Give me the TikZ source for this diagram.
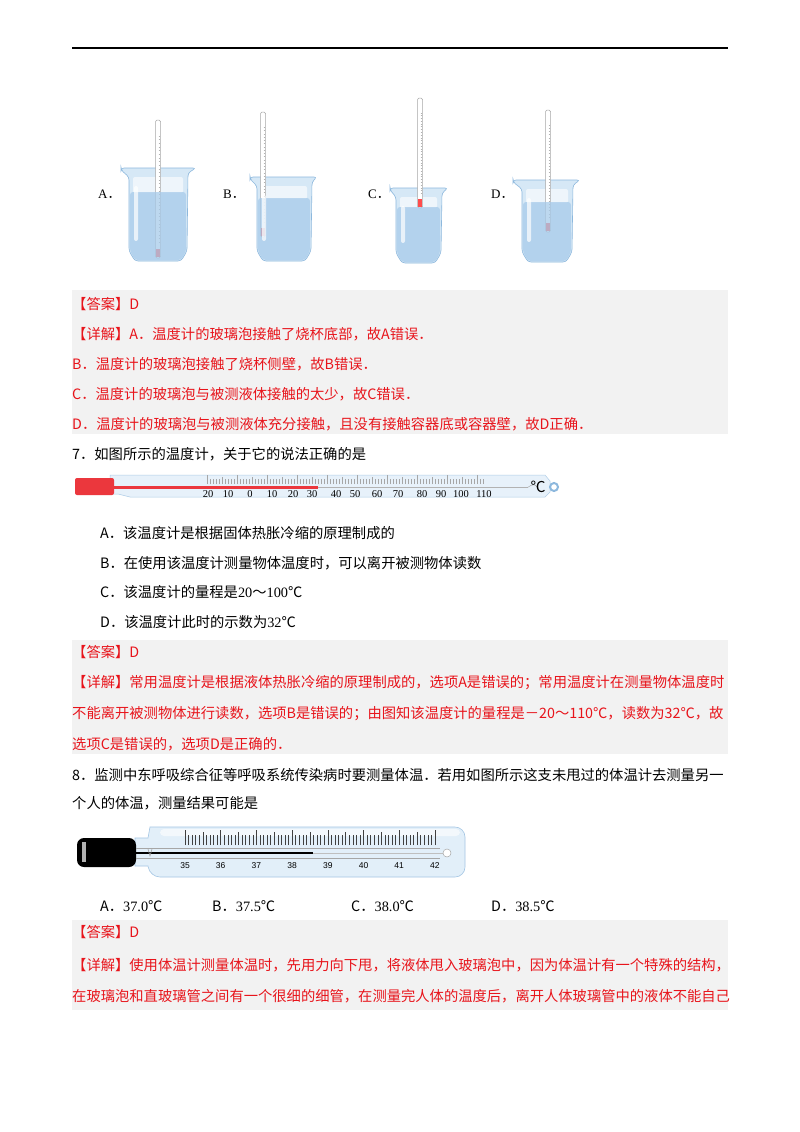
\documentclass[tikz,border=0pt]{standalone}
\usepackage{fontspec}
\setmainfont{Noto Sans CJK SC}
\newfontfamily\lat{Liberation Serif}
\newfontfamily\arl{Liberation Sans}
\definecolor{ansred}{HTML}{E8141B}
\definecolor{boxgray}{HTML}{F2F2F2}
\definecolor{glass}{HTML}{D6E8F6}
\definecolor{water}{HTML}{A8CBEA}
\definecolor{edge}{HTML}{8DB8DD}
\begin{document}
\begin{tikzpicture}[x=1pt,y=-1pt,
  txt/.style={anchor=west,inner sep=0pt,font=\fontsize{14.3}{15}\selectfont},
  red/.style={txt,text=ansred},
  ans/.style={fill=boxgray,draw=none}]
\useasboundingbox[fill=white] (0,0) rectangle (800,1132);
\draw[line width=1.2pt] (72,48) -- (728,48);
% beakers
\foreach \rl/\rr/\bl/\br/\t/\b/\w/\tx/\tt/\tb in
 {121/196/129/187/168/261/192/158/120/258,
  250/317/257/311/177/261/198/263/112/237,
  390/448/396/441/188/263/207/420/98/208,
  513/580/522/572/180/262/202/548/110/232}{
  \fill[glass,draw=edge,line width=0.6pt,rounded corners=3pt]
   (\rl,\t) -- (\rr,\t) -- (\br+1,\t+5) -- (\br,\b-10) -- (\br-6,\b) -- (\bl+6,\b) -- (\bl,\b-10) -- (\bl,\t+9) -- (\rl,\t+2) -- cycle;
  \fill[white,opacity=0.6,rounded corners=2pt] (\bl+4,\t+9) rectangle (\br-4,\w+1);
  \draw[fill=white,draw=gray!70,line width=0.5pt,rounded corners=1.5pt] (\tx-2.5,\tt) rectangle (\tx+2.5,\tb);
  \fill[red!70!white] (\tx-1.8,\tb-9) rectangle (\tx+1.8,\tb-0.8);
  \foreach \k in {1,...,30}{\pgfmathsetmacro\yy{\tt+12+\k*(\tb-\tt-24)/31}
    \draw[gray!60,line width=0.3pt] (\tx+0.5,\yy) -- (\tx+2,\yy);}
  \fill[water,opacity=0.75,rounded corners=3pt] (\bl+1,\w) -- (\br-1,\w) -- (\br-1,\b-10) -- (\br-6,\b-1) -- (\bl+6,\b-1) -- (\bl+1,\b-10) -- cycle;
  \fill[white,opacity=0.7,rounded corners=2pt] (\bl+5,\t+18) rectangle (\bl+9,\b-20);
}
\node[txt,font=\fontsize{13}{14}\selectfont] (la) at (98,194) {{\lat A}．};
\node[txt,font=\fontsize{13}{14}\selectfont] (lb) at (223,194) {{\lat B}．};
\node[txt,font=\fontsize{13}{14}\selectfont] (lc) at (368,194) {{\lat C}．};
\node[txt,font=\fontsize{13}{14}\selectfont] (ld) at (491,194) {{\lat D}．};
% answer box 6
\fill[ans] (72,290) rectangle (728,434);
\node[red] (a6) at (72,304) {【答案】D};
\node[red] (d6a) at (72,334) {【详解】A．温度计的玻璃泡接触了烧杯底部，故A错误．};
\node[red] (d6b) at (72,364) {B．温度计的玻璃泡接触了烧杯侧壁，故B错误．};
\node[red] (d6c) at (72,394) {C．温度计的玻璃泡与被测液体接触的太少，故C错误．};
\node[red] (d6d) at (72,424) {D．温度计的玻璃泡与被测液体充分接触，且没有接触容器底或容器壁，故D正确．};
\node[txt] (q7) at (72,454) {7．如图所示的温度计，关于它的说法正确的是};
% thermometer 7
\fill[glass!60!white,draw=edge!70,line width=0.5pt] (110,475) -- (545,475) -- (550,481) -- (550,492) -- (545,497) -- (130,497) -- (118,494) -- (110,494) -- cycle;
\fill[ansred!85,rounded corners=2pt] (75,478) rectangle (114,495);
\fill[ansred!85] (112,486) rectangle (318,488.5);
\draw[gray!60,line width=0.6pt] (318,487.2) -- (528,487.2);
\draw[gray!70,line width=0.5pt] (528,487.2) .. controls (532,484) and (536,484) .. (537,487.2);
\foreach \i in {0,...,92}{\pgfmathsetmacro\xx{207+\i*3}
  \pgfmathsetmacro\hh{ifthenelse(mod(\i,10)==0,9,ifthenelse(mod(\i,5)==0,7,5))}
  \draw[gray!70,line width=0.35pt] (\xx,484) -- (\xx,484-\hh);}
\foreach \v/\xx in {20/208,10/228,0/250,10/272,20/293,30/312,40/336,50/355,60/377,70/398,80/422,90/441,100/461,110/484}{
  \node[inner sep=0pt,font=\lat\fontsize{10.5}{11}\selectfont] at (\xx,494) {\v};}
\node[inner sep=0pt,font=\fontsize{15}{16}\selectfont] (dc) at (538,487) {℃};
\draw[edge,line width=2pt] (554,487) circle (4);
\node[txt] (o7a) at (100,533) {A．该温度计是根据固体热胀冷缩的原理制成的};
\node[txt] (o7b) at (100,563) {B．在使用该温度计测量物体温度时，可以离开被测物体读数};
\node[txt] (o7c) at (100,592) {C．该温度计的量程是{\lat 20}～{\lat 100}℃};
\node[txt] (o7d) at (100,622) {D．该温度计此时的示数为{\lat 32}℃};
% answer box 7
\fill[ans] (72,640) rectangle (728,754);
\node[red] (a7) at (72,652) {【答案】D};
\node[red] (d7a) at (72,683) {【详解】常用温度计是根据液体热胀冷缩的原理制成的，选项A是错误的；常用温度计在测量物体温度时};
\node[red] (d7b) at (72,714) {不能离开被测物体进行读数，选项B是错误的；由图知该温度计的量程是－20～110℃，读数为32℃，故};
\node[red] (d7c) at (72,744) {选项C是错误的，选项D是正确的．};
\node[txt] (q8a) at (72,775) {8．监测中东呼吸综合征等呼吸系统传染病时要测量体温．若用如图所示这支未甩过的体温计去测量另一};
\node[txt] (q8b) at (72,803) {个人的体温，测量结果可能是};
% thermometer 8
\fill[glass!70!white,draw=edge!80,line width=0.6pt,rounded corners=10pt] (150,827) -- (465,827) -- (465,877) -- (150,877) [sharp corners] -- (148,866) -- (135,866) -- (135,838) -- (148,838) -- cycle;
\fill[white,opacity=0.6,rounded corners=4pt] (160,829) rectangle (460,836);
\fill[black,rounded corners=7pt] (77,838) rectangle (136,867);
\fill[gray!60] (82,842) rectangle (86,862);
\draw[gray!70,line width=0.5pt] (136,848) -- (440,848) (136,858) -- (440,858);
\draw[black,line width=2.5pt] (136,853) -- (313,853);
\draw[gray!50,line width=1pt] (313,853) -- (443,853);
\draw[gray!70,fill=white,line width=0.5pt] (447,853) circle (4);
\draw[gray!70,line width=0.6pt] (148,849) -- (150,856) -- (152,849);
\foreach \i in {0,...,70}{\pgfmathsetmacro\xx{185+\i*3.57}
  \pgfmathsetmacro\hh{ifthenelse(mod(\i,10)==0,15,ifthenelse(mod(\i,5)==0,13,10))}
  \draw[black!75,line width=0.5pt] (\xx,845) -- (\xx,845-\hh);}
\foreach \v [count=\k from 0] in {35,...,42}{
  \node[inner sep=0pt,font=\arl\fontsize{8.5}{9}\selectfont] at (185+\k*35.7,866) {\v};}
\node[txt] (o8a) at (100,906) {A．{\lat 37.0}℃};
\node[txt] (o8b) at (212,906) {B．{\lat 37.5}℃};
\node[txt] (o8c) at (351,906) {C．{\lat 38.0}℃};
\node[txt] (o8d) at (491,906) {D．{\lat 38.5}℃};
% answer box 8
\fill[ans] (72,920) rectangle (728,1010);
\node[red] (a8) at (72,932) {【答案】D};
\node[red] (d8a) at (72,965) {【详解】使用体温计测量体温时，先用力向下甩，将液体甩入玻璃泡中，因为体温计有一个特殊的结构，};
\node[red] (d8b) at (72,996) {在玻璃泡和直玻璃管之间有一个很细的细管，在测量完人体的温度后，离开人体玻璃管中的液体不能自己};
\end{tikzpicture}
\end{document}
